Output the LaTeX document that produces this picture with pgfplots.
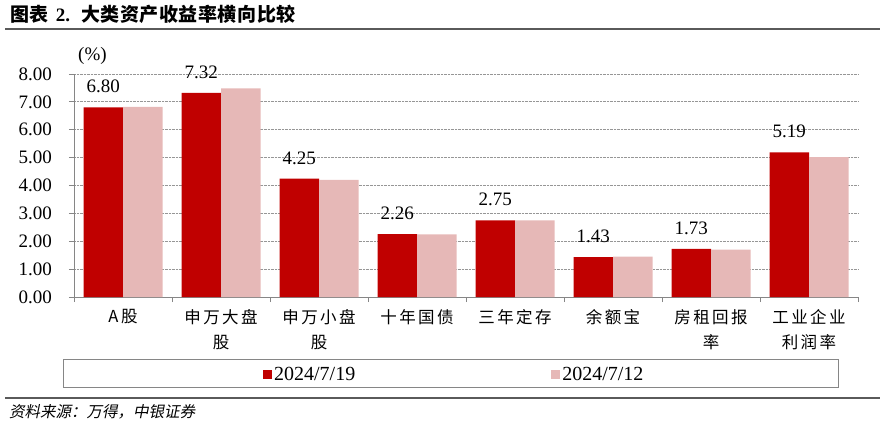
\documentclass[border=0pt]{standalone}
\usepackage{pgfplots}
\pgfplotsset{compat=1.18}
\usepackage{fontspec}
\setmainfont{Liberation Serif}
\newfontfamily\cjk{Noto Sans CJK SC}
\newfontfamily\cjktitle[LetterSpace=3]{Noto Sans CJK SC}
\newfontfamily\cjklab[LetterSpace=15]{Noto Sans CJK SC}
\newfontfamily\cjkit[FakeSlant=0.2]{Noto Sans CJK SC}
\definecolor{cred}{RGB}{192,0,0}
\definecolor{cpink}{RGB}{230,184,183}
\definecolor{axgray}{RGB}{134,134,134}
\definecolor{gridgray}{RGB}{150,150,150}
\definecolor{rulegray}{RGB}{90,90,90}
\begin{document}
\begin{tikzpicture}
% title
\node[anchor=base west, inner sep=0pt] at (10bp,403bp) {\fontsize{19bp}{19bp}\selectfont{\cjktitle\bfseries 图表}\hspace{7bp}{\bfseries 2.}\hspace{11bp}{\cjktitle\bfseries 大类资产收益率横向比较}};
\draw[rulegray, line width=1.5bp] (5bp,396bp) -- (880bp,396bp);
% (%)
\node[anchor=base west, inner sep=0pt] at (78bp,364bp) {\fontsize{19bp}{19bp}\selectfont (\%)};
\begin{axis}[
  at={(74bp,128bp)}, anchor=south west,
  scale only axis, width=784bp, height=223bp,
  xmin=-0.5, xmax=7.5, ymin=0, ymax=8,
  ybar=0pt, bar width=39.5bp,
  axis x line*=bottom, axis y line*=left,
  axis line style={draw=axgray, line width=1bp},
  tick style={draw=axgray, line width=1bp},
  tick align=outside, major tick length=5bp,
  ymajorgrids, major grid style={densely dotted, draw=gridgray, line width=0.8bp},
  ytick={0,1,2,3,4,5,6,7,8},
  /pgf/number format/assume math mode=true,
  yticklabel style={font=\fontsize{19bp}{19bp}\selectfont, inner sep=0pt, xshift=-17bp,
     /pgf/number format/fixed, /pgf/number format/fixed zerofill, /pgf/number format/precision=2},
  xtick={-0.5,0.5,1.5,2.5,3.5,4.5,5.5,6.5},
  xticklabels={A股,{申万大盘\\股},{申万小盘\\股},十年国债,三年定存,余额宝,{房租回报\\率},{工业企业\\利润率}},
  xticklabel style={font=\cjklab\fontsize{16.5bp}{25bp}\selectfont, align=center, anchor=north, inner sep=0pt, xshift=49bp, yshift=-7bp},
  extra x ticks={7.5}, extra x tick labels={},
  legend columns=2,
  legend cell align=left,
  legend style={draw=none, fill=none, inner sep=0pt, at={(0.241,-0.3475)}, anchor=west,
     font=\fontsize{20bp}{20bp}\selectfont,
     nodes={inner sep=2bp},
     /tikz/every odd column/.append style={column sep=0bp},
     /tikz/every even column/.append style={column sep=194bp}},
  legend image code/.code={\fill[#1] (0bp,-4.5bp) rectangle (9bp,4.5bp);},
  clip=false,
]
\addplot[fill=cred, draw=none,
  nodes near coords={\pgfmathprintnumber[fixed,fixed zerofill,precision=2]{\pgfplotspointmeta}},
  nodes near coords style={font=\fontsize{19bp}{19bp}\selectfont, inner sep=0pt, anchor=south, yshift=14bp},
  point meta=y]
  coordinates {(0,6.80) (1,7.32) (2,4.25) (3,2.26) (4,2.75) (5,1.43) (6,1.73) (7,5.19)};
\addplot[fill=cpink, draw=none]
  coordinates {(0,6.82) (1,7.48) (2,4.20) (3,2.25) (4,2.75) (5,1.45) (6,1.70) (7,5.02)};
\legend{2024/7/19, 2024/7/12}
\end{axis}
% legend frame
\draw[axgray, line width=0.8bp] (63bp,38bp) rectangle (838bp,66bp);
% source
\draw[rulegray, line width=1.5bp] (5bp,27bp) -- (880bp,27bp);
\node[anchor=base west, inner sep=0pt] at (9bp,8bp) {\cjkit\fontsize{15.5bp}{15.5bp}\selectfont 资料来源：万得，中银证券};
\pgfresetboundingbox
\path[use as bounding box] (0,0) rectangle (880bp,425bp);
\end{tikzpicture}
\end{document}
